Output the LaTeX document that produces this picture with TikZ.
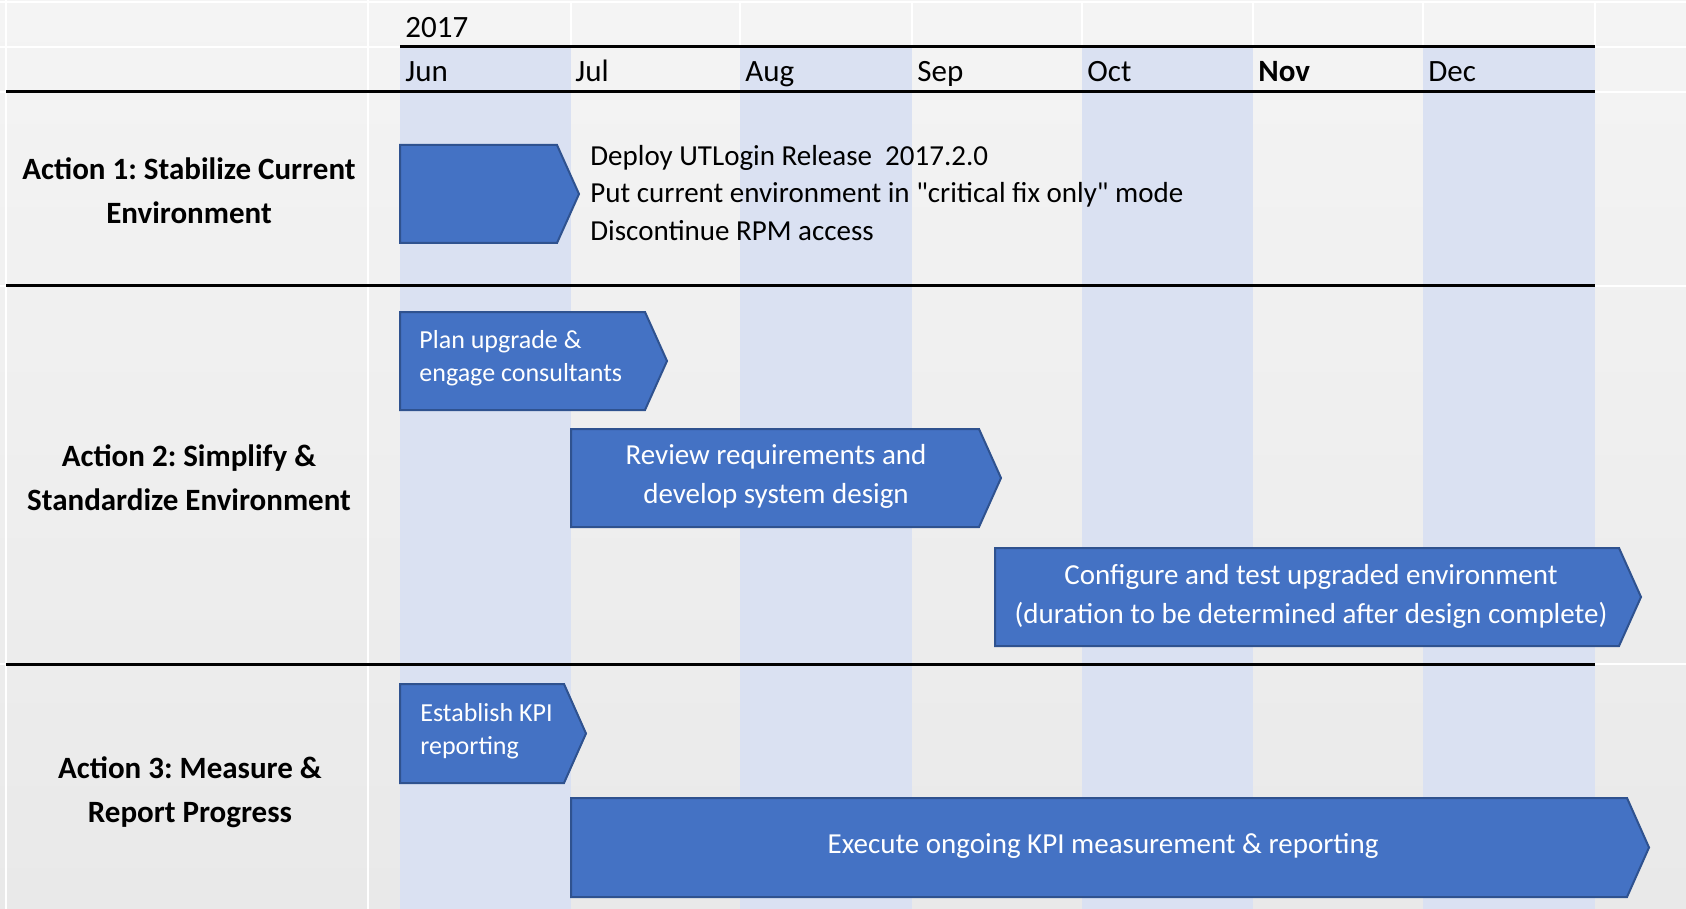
\documentclass[tikz,border=0pt]{standalone}
\usepackage{fontspec}
\setmainfont{Carlito}[Ligatures=TeXOff]
\usepackage{tikz}
\frenchspacing
\definecolor{plantop}{RGB}{244,244,244}
\definecolor{planbot}{RGB}{233,233,233}
\definecolor{monthband}{RGB}{218,225,242}
\definecolor{barfill}{RGB}{68,114,196}
\definecolor{barline}{RGB}{47,82,143}

% chevron bar: left, top, right, bottom
\newcommand{\chevbar}[4]{%
  \filldraw[bar] (#1,#2) -- (#3,#2) -- ({#3+22},{(#2+#4)/2}) -- (#3,#4) -- (#1,#4) -- cycle;}

\begin{document}
\begin{tikzpicture}[x=0.5pt,y=-0.5pt,
  bar/.style={fill=barfill,draw=barline,line width=1pt,line join=miter},
  rowlabel/.style={font=\bfseries\fontsize{15.5}{22}\selectfont,align=center,inner sep=0pt},
  month/.style={anchor=base west,inner sep=0pt,font=\fontsize{15.5}{18}\selectfont},
  bigtask/.style={text=white,align=center,inner sep=0pt,font=\fontsize{14.5}{19.5}\selectfont},
  smalltask/.style={text=white,align=left,anchor=west,inner sep=0pt,font=\fontsize{13}{16.5}\selectfont},
  rule/.style={line width=1.5pt},
  cell/.style={white,line width=1pt}]
\useasboundingbox (0,0) rectangle (1686,909);
\fill[top color=plantop,bottom color=planbot] (0,0) rectangle (1686,909);

% month bands
\foreach \a/\b in {400/571,740/912,1082/1253,1423/1595}
  \fill[monthband] (\a,47) rectangle (\b,909);

% table borders
\draw[cell] (0,2) -- (1686,2);
\foreach \y in {47,92,286,664}
  \draw[cell] (0,\y) -- (1686,\y);
\draw[cell] (6,0) -- (6,909);
\draw[cell] (368,0) -- (368,909);
\foreach \x in {571,740,912,1082,1253,1423,1595}
  \draw[cell] (\x,2) -- (\x,47);

\draw[rule] (400,47) -- (1595,47);
\foreach \y in {92,286,664}
  \draw[rule] (6,\y) -- (1595,\y);

% header
\node[month] (year) at (405,38) {2017};
\foreach \x/\m/\n in {405/Jun/jun,575/Jul/jul,745/Aug/aug,917/Sep/sep,1087/Oct/oct,1258/\textbf{Nov}/nov,1428/Dec/dec}
  \node[month] (\n) at (\x,82) {\m};

% actions
\node[rowlabel] (act1) at (189,191) {Action 1: Stabilize Current\\Environment};
\node[rowlabel] (act2) at (189,478) {Action 2: Simplify \&\\Standardize Environment};
\node[rowlabel] (act3) at (190,792) {Action 3: Measure \&\\Report Progress};

% bars
\chevbar{400}{145}{557}{243}
\chevbar{400}{312}{645}{410}
\chevbar{571}{429}{979}{527}
\chevbar{995}{548}{1619}{646}
\chevbar{400}{684}{564}{783}
\chevbar{571}{798}{1627}{897}

\node[anchor=west,align=left,inner sep=0pt,font=\fontsize{14.5}{18.75}\selectfont] (deploy) at (590,193)
  {Deploy UTLogin Release\ \ 2017.2.0\\Put current environment in "critical fix only" mode\\Discontinue RPM access};
\node[smalltask] (plan) at (419,358) {Plan upgrade \&\\engage consultants};
\node[bigtask] (review) at (776,476) {Review requirements and\\develop system design};
\node[bigtask] (config) at (1311,596) {Configure and test upgraded environment\\(duration to be determined after design complete)};
\node[smalltask] (kpi) at (420,731) {Establish KPI\\reporting};
\node[bigtask] (execute) at (1103,846) {Execute ongoing KPI measurement \& reporting};
\end{tikzpicture}
\end{document}
